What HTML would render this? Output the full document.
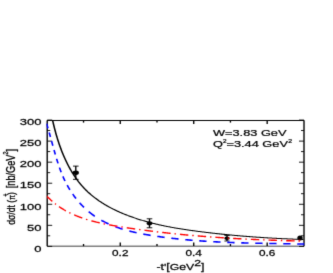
<!DOCTYPE html>
<html><head><meta charset="utf-8"><style>
html,body{margin:0;padding:0;background:#fff;}
svg{display:block;will-change:transform;font-family:"Liberation Sans",sans-serif;}
</style></head><body>
<svg width="333" height="273" viewBox="0 0 333 273">
<rect width="333" height="273" fill="#fff"/>
<filter id="bl" x="0" y="0" width="333" height="273" filterUnits="userSpaceOnUse"><feConvolveMatrix order="3" kernelMatrix="0.0183 0.1353 0.0183 0.1353 1 0.1353 0.0183 0.1353 0.0183" edgeMode="duplicate" preserveAlpha="false"/></filter>
<g filter="url(#bl)">
<g transform="scale(1.5,1)" fill="none" stroke-linecap="butt" stroke-linejoin="round">
<line x1="50.53" y1="166.10" x2="50.53" y2="179.30" stroke="#000" stroke-width="0.9"/>
<line x1="48.67" y1="166.10" x2="52.40" y2="166.10" stroke="#000" stroke-width="0.9"/>
<line x1="48.67" y1="179.30" x2="52.40" y2="179.30" stroke="#000" stroke-width="0.9"/>
<ellipse cx="50.53" cy="172.80" rx="2.07" ry="2.2" fill="#000"/>
<line x1="99.67" y1="218.80" x2="99.67" y2="227.80" stroke="#000" stroke-width="0.9"/>
<line x1="97.80" y1="218.80" x2="101.53" y2="218.80" stroke="#000" stroke-width="0.9"/>
<line x1="97.80" y1="227.80" x2="101.53" y2="227.80" stroke="#000" stroke-width="0.9"/>
<ellipse cx="99.67" cy="223.30" rx="1.87" ry="2.0" fill="#000"/>
<line x1="151.33" y1="235.40" x2="151.33" y2="241.00" stroke="#000" stroke-width="0.9"/>
<line x1="149.60" y1="235.40" x2="153.07" y2="235.40" stroke="#000" stroke-width="0.9"/>
<line x1="149.60" y1="241.00" x2="153.07" y2="241.00" stroke="#000" stroke-width="0.9"/>
<ellipse cx="151.33" cy="238.20" rx="1.87" ry="1.8" fill="#000"/>
<line x1="200.00" y1="236.00" x2="200.00" y2="240.20" stroke="#000" stroke-width="0.9"/>
<ellipse cx="200.00" cy="238.10" rx="1.80" ry="2.5" fill="#000"/>
<clipPath id="c"><rect x="30.93" y="120.50" width="171.73" height="125.60"/></clipPath>
<rect x="31.47" y="120.50" width="171.20" height="125.60" stroke="#000" stroke-width="0.92"/>
<line x1="31.47" y1="246.35" x2="34.80" y2="246.35" stroke="#000" stroke-width="0.9"/>
<line x1="202.67" y1="246.35" x2="199.33" y2="246.35" stroke="#000" stroke-width="0.9"/>
<line x1="31.47" y1="235.82" x2="33.47" y2="235.82" stroke="#000" stroke-width="0.9"/>
<line x1="202.67" y1="235.82" x2="200.67" y2="235.82" stroke="#000" stroke-width="0.9"/>
<line x1="31.47" y1="225.30" x2="34.80" y2="225.30" stroke="#000" stroke-width="0.9"/>
<line x1="202.67" y1="225.30" x2="199.33" y2="225.30" stroke="#000" stroke-width="0.9"/>
<line x1="31.47" y1="214.78" x2="33.47" y2="214.78" stroke="#000" stroke-width="0.9"/>
<line x1="202.67" y1="214.78" x2="200.67" y2="214.78" stroke="#000" stroke-width="0.9"/>
<line x1="31.47" y1="204.25" x2="34.80" y2="204.25" stroke="#000" stroke-width="0.9"/>
<line x1="202.67" y1="204.25" x2="199.33" y2="204.25" stroke="#000" stroke-width="0.9"/>
<line x1="31.47" y1="193.72" x2="33.47" y2="193.72" stroke="#000" stroke-width="0.9"/>
<line x1="202.67" y1="193.72" x2="200.67" y2="193.72" stroke="#000" stroke-width="0.9"/>
<line x1="31.47" y1="183.20" x2="34.80" y2="183.20" stroke="#000" stroke-width="0.9"/>
<line x1="202.67" y1="183.20" x2="199.33" y2="183.20" stroke="#000" stroke-width="0.9"/>
<line x1="31.47" y1="172.68" x2="33.47" y2="172.68" stroke="#000" stroke-width="0.9"/>
<line x1="202.67" y1="172.68" x2="200.67" y2="172.68" stroke="#000" stroke-width="0.9"/>
<line x1="31.47" y1="162.15" x2="34.80" y2="162.15" stroke="#000" stroke-width="0.9"/>
<line x1="202.67" y1="162.15" x2="199.33" y2="162.15" stroke="#000" stroke-width="0.9"/>
<line x1="31.47" y1="151.62" x2="33.47" y2="151.62" stroke="#000" stroke-width="0.9"/>
<line x1="202.67" y1="151.62" x2="200.67" y2="151.62" stroke="#000" stroke-width="0.9"/>
<line x1="31.47" y1="141.10" x2="34.80" y2="141.10" stroke="#000" stroke-width="0.9"/>
<line x1="202.67" y1="141.10" x2="199.33" y2="141.10" stroke="#000" stroke-width="0.9"/>
<line x1="31.47" y1="130.57" x2="33.47" y2="130.57" stroke="#000" stroke-width="0.9"/>
<line x1="202.67" y1="130.57" x2="200.67" y2="130.57" stroke="#000" stroke-width="0.9"/>
<line x1="31.47" y1="120.05" x2="34.80" y2="120.05" stroke="#000" stroke-width="0.9"/>
<line x1="202.67" y1="120.05" x2="199.33" y2="120.05" stroke="#000" stroke-width="0.9"/>
<line x1="55.69" y1="246.10" x2="55.69" y2="244.00" stroke="#000" stroke-width="0.9"/>
<line x1="55.69" y1="120.50" x2="55.69" y2="122.60" stroke="#000" stroke-width="0.9"/>
<line x1="80.17" y1="246.10" x2="80.17" y2="242.50" stroke="#000" stroke-width="0.9"/>
<line x1="80.17" y1="120.50" x2="80.17" y2="124.10" stroke="#000" stroke-width="0.9"/>
<line x1="104.66" y1="246.10" x2="104.66" y2="244.00" stroke="#000" stroke-width="0.9"/>
<line x1="104.66" y1="120.50" x2="104.66" y2="122.60" stroke="#000" stroke-width="0.9"/>
<line x1="129.15" y1="246.10" x2="129.15" y2="242.50" stroke="#000" stroke-width="0.9"/>
<line x1="129.15" y1="120.50" x2="129.15" y2="124.10" stroke="#000" stroke-width="0.9"/>
<line x1="153.63" y1="246.10" x2="153.63" y2="244.00" stroke="#000" stroke-width="0.9"/>
<line x1="153.63" y1="120.50" x2="153.63" y2="122.60" stroke="#000" stroke-width="0.9"/>
<line x1="178.12" y1="246.10" x2="178.12" y2="242.50" stroke="#000" stroke-width="0.9"/>
<line x1="178.12" y1="120.50" x2="178.12" y2="124.10" stroke="#000" stroke-width="0.9"/>
<g clip-path="url(#c)">
<path d="M35.06,120.21 L35.17,120.98 L35.29,121.76 L35.41,122.54 L35.53,123.32 L35.65,124.10 L35.78,124.89 L35.90,125.67 L36.03,126.45 L36.16,127.24 L36.30,128.02 L36.43,128.81 L36.57,129.60 L36.71,130.39 L36.85,131.17 L36.99,131.96 L37.13,132.75 L37.28,133.54 L37.43,134.33 L37.58,135.12 L37.73,135.91 L37.89,136.69 L38.05,137.48 L38.21,138.27 L38.37,139.06 L38.53,139.85 L38.70,140.63 L38.87,141.42 L39.04,142.21 L39.21,142.99 L39.39,143.78 L39.57,144.56 L39.75,145.34 L39.93,146.12 L40.12,146.91 L40.31,147.68 L40.50,148.46 L40.69,149.24 L40.89,150.02 L41.09,150.79 L41.29,151.56 L41.49,152.33 L41.70,153.10 L41.91,153.87 L42.12,154.64 L42.33,155.40 L42.55,156.16 L42.77,156.92 L42.99,157.68 L43.22,158.44 L43.45,159.19 L43.68,159.94 L43.91,160.69 L44.15,161.43 L44.39,162.18 L44.63,162.92 L44.87,163.66 L45.12,164.39 L45.37,165.13 L45.63,165.85 L45.88,166.58 L46.15,167.30 L46.41,168.03 L46.67,168.74 L46.94,169.46 L47.22,170.17 L47.49,170.87 L47.77,171.58 L48.05,172.28 L48.34,172.97 L48.63,173.66 L48.92,174.35 L49.21,175.04 L49.51,175.72 L49.81,176.39 L50.12,177.07 L50.42,177.73 L50.74,178.40 L51.05,179.06 L51.37,179.71 L51.69,180.36 L52.02,181.01 L52.34,181.65 L52.68,182.29 L53.01,182.92 L53.35,183.55 L53.69,184.17 L54.04,184.78 L54.39,185.40 L54.74,186.00 L55.10,186.60 L55.46,187.20 L55.82,187.79 L56.19,188.37 L56.56,188.95 L56.94,189.53 L57.32,190.10 L57.70,190.66 L58.09,191.22 L58.47,191.77 L58.87,192.32 L59.26,192.86 L59.66,193.39 L60.07,193.92 L60.47,194.45 L60.88,194.97 L61.29,195.48 L61.71,195.99 L62.13,196.50 L62.55,197.00 L62.98,197.49 L63.40,197.98 L63.83,198.47 L64.27,198.95 L64.70,199.42 L65.14,199.89 L65.59,200.36 L66.03,200.82 L66.48,201.27 L66.93,201.72 L67.38,202.17 L67.83,202.61 L68.29,203.05 L68.75,203.48 L69.21,203.91 L69.68,204.33 L70.14,204.75 L70.61,205.16 L71.08,205.57 L71.56,205.98 L72.03,206.38 L72.51,206.78 L72.99,207.17 L73.47,207.55 L73.95,207.94 L74.44,208.32 L74.92,208.69 L75.41,209.06 L75.90,209.43 L76.39,209.79 L76.89,210.15 L77.38,210.50 L77.88,210.85 L78.38,211.20 L78.88,211.54 L79.38,211.88 L79.88,212.22 L80.39,212.55 L80.89,212.87 L81.40,213.20 L81.90,213.52 L82.41,213.83 L82.92,214.14 L83.43,214.45 L83.95,214.76 L84.46,215.06 L84.97,215.36 L85.49,215.65 L86.00,215.94 L86.52,216.23 L87.04,216.51 L87.55,216.79 L88.07,217.07 L88.59,217.34 L89.11,217.61 L89.63,217.88 L90.15,218.14 L90.67,218.40 L91.19,218.66 L91.71,218.92 L92.24,219.17 L92.76,219.41 L93.28,219.66 L93.80,219.90 L94.33,220.14 L94.85,220.38 L95.38,220.61 L95.90,220.84 L96.43,221.07 L96.95,221.29 L97.48,221.51 L98.00,221.73 L98.53,221.95 L99.06,222.16 L99.58,222.37 L100.11,222.58 L100.64,222.79 L101.17,222.99 L101.69,223.19 L102.22,223.39 L102.75,223.58 L103.28,223.78 L103.81,223.97 L104.34,224.16 L104.87,224.34 L105.40,224.53 L105.93,224.71 L106.46,224.89 L106.99,225.06 L107.52,225.24 L108.05,225.41 L108.59,225.58 L109.12,225.75 L109.65,225.91 L110.18,226.08 L110.72,226.24 L111.25,226.40 L111.78,226.56 L112.32,226.71 L112.85,226.87 L113.38,227.02 L113.92,227.17 L114.45,227.32 L114.99,227.46 L115.52,227.61 L116.06,227.75 L116.59,227.89 L117.13,228.03 L117.67,228.17 L118.20,228.31 L118.74,228.44 L119.27,228.57 L119.81,228.71 L120.35,228.84 L120.88,228.96 L121.42,229.09 L121.96,229.22 L122.50,229.34 L123.03,229.47 L123.57,229.59 L124.11,229.71 L124.65,229.83 L125.19,229.95 L125.72,230.06 L126.26,230.18 L126.80,230.29 L127.34,230.41 L127.88,230.52 L128.42,230.63 L128.96,230.74 L129.50,230.85 L130.03,230.96 L130.57,231.07 L131.11,231.18 L131.65,231.28 L132.19,231.39 L132.73,231.49 L133.27,231.60 L133.81,231.70 L134.35,231.80 L134.89,231.90 L135.43,232.00 L135.97,232.10 L136.51,232.20 L137.06,232.30 L137.60,232.40 L138.14,232.50 L138.68,232.59 L139.22,232.69 L139.76,232.79 L140.30,232.88 L140.84,232.97 L141.38,233.07 L141.92,233.16 L142.46,233.25 L143.01,233.34 L143.55,233.43 L144.09,233.52 L144.63,233.61 L145.17,233.70 L145.71,233.79 L146.26,233.87 L146.80,233.96 L147.34,234.05 L147.88,234.13 L148.42,234.22 L148.97,234.30 L149.51,234.38 L150.05,234.46 L150.59,234.55 L151.14,234.63 L151.68,234.71 L152.22,234.79 L152.76,234.87 L153.31,234.94 L153.85,235.02 L154.39,235.10 L154.93,235.18 L155.48,235.25 L156.02,235.33 L156.56,235.40 L157.10,235.47 L157.65,235.55 L158.19,235.62 L158.73,235.69 L159.28,235.76 L159.82,235.83 L160.36,235.90 L160.91,235.97 L161.45,236.04 L161.99,236.11 L162.54,236.18 L163.08,236.24 L163.62,236.31 L164.17,236.37 L164.71,236.44 L165.25,236.50 L165.80,236.57 L166.34,236.63 L166.89,236.69 L167.43,236.75 L167.97,236.81 L168.52,236.88 L169.06,236.93 L169.60,236.99 L170.15,237.05 L170.69,237.11 L171.24,237.17 L171.78,237.23 L172.32,237.28 L172.87,237.34 L173.41,237.39 L173.96,237.45 L174.50,237.50 L175.04,237.55 L175.59,237.61 L176.13,237.66 L176.68,237.71 L177.22,237.76 L177.77,237.81 L178.31,237.86 L178.85,237.91 L179.40,237.96 L179.94,238.01 L180.49,238.05 L181.03,238.10 L181.57,238.15 L182.12,238.19 L182.66,238.24 L183.21,238.28 L183.75,238.33 L184.30,238.37 L184.84,238.41 L185.38,238.45 L185.93,238.50 L186.47,238.54 L187.02,238.58 L187.56,238.62 L188.11,238.66 L188.65,238.70 L189.19,238.73 L189.74,238.77 L190.28,238.81 L190.83,238.85 L191.37,238.88 L191.92,238.92 L192.46,238.95 L193.00,238.99 L193.55,239.02 L194.09,239.05 L194.64,239.09 L195.18,239.12 L195.73,239.15 L196.27,239.18 L196.81,239.21 L197.36,239.24 L197.90,239.27 L198.45,239.30 L198.99,239.33 L199.53,239.36 L200.08,239.39 L200.62,239.41 L201.17,239.44 L201.71,239.47 L202.25,239.49" stroke="#000" stroke-width="1.05"/>
</g>
</g>
<clipPath id="c2"><rect x="46.40" y="120.50" width="257.60" height="125.60"/></clipPath>
<g clip-path="url(#c2)" fill="none" stroke-linecap="butt" stroke-linejoin="round">
<path d="M46.61,123.62 L46.62,123.66 L46.80,124.27 L46.98,124.88 L47.17,125.48 L47.35,126.09 L47.52,126.70 L47.70,127.31 L47.88,127.92 L47.96,128.20 M49.17,132.42 L49.22,132.60 L49.39,133.22 L49.56,133.83 L49.73,134.45 L49.90,135.06 L50.07,135.68 L50.25,136.29 L50.42,136.91 L50.44,137.00 M51.60,141.22 L51.60,141.23 L51.77,141.85 L51.94,142.46 L52.11,143.08 L52.28,143.70 L52.45,144.32 L52.62,144.94 L52.79,145.56 L52.86,145.80 M54.04,150.02 L54.06,150.10 L54.23,150.72 L54.41,151.33 L54.59,151.95 L54.76,152.57 L54.94,153.19 L55.12,153.81 L55.30,154.43 L55.35,154.60 M56.61,158.82 L56.65,158.96 L56.84,159.57 L57.03,160.19 L57.22,160.81 L57.42,161.42 L57.61,162.04 L57.81,162.65 L58.01,163.26 L58.05,163.40 M59.48,167.62 L59.52,167.74 L59.74,168.35 L59.96,168.96 L60.18,169.56 L60.40,170.17 L60.62,170.77 L60.85,171.37 L61.08,171.97 L61.17,172.20 M62.90,176.42 L62.95,176.54 L63.21,177.13 L63.47,177.72 L63.73,178.30 L64.00,178.89 L64.27,179.47 L64.55,180.05 L64.83,180.63 L65.01,181.00 M67.21,185.22 L67.30,185.39 L67.61,185.95 L67.93,186.51 L68.25,187.07 L68.57,187.63 L68.90,188.18 L69.23,188.73 L69.57,189.28 L69.89,189.80 M72.68,194.02 L72.74,194.11 L73.11,194.64 L73.48,195.16 L73.86,195.68 L74.24,196.20 L74.62,196.71 L75.01,197.22 L75.40,197.73 L75.79,198.23 L76.08,198.60 M79.63,202.82 L79.76,202.96 L80.18,203.44 L80.61,203.91 L81.05,204.37 L81.48,204.84 L81.92,205.29 L82.37,205.75 L82.81,206.20 L83.26,206.65 L83.71,207.10 L84.02,207.40 M88.71,211.62 L88.72,211.63 L89.21,212.03 L89.70,212.43 L90.19,212.83 L90.68,213.22 L91.18,213.60 L91.68,213.99 L92.18,214.36 L92.69,214.74 L93.20,215.11 L93.71,215.48 L94.23,215.84 L94.74,216.20 L94.75,216.20 M101.35,220.28 L101.52,220.37 L102.07,220.68 L102.62,220.97 L103.18,221.27 L103.73,221.56 L104.30,221.85 L104.86,222.13 L105.42,222.41 L105.99,222.69 L106.56,222.97 L107.13,223.24 L107.70,223.50 L108.28,223.76 L108.62,223.92 M115.34,226.67 L115.53,226.74 L116.13,226.96 L116.73,227.18 L117.33,227.39 L117.93,227.60 L118.54,227.81 L119.15,228.02 L119.76,228.22 L120.37,228.42 L120.98,228.62 L121.59,228.81 L122.20,229.00 L122.62,229.13 M129.33,231.02 L129.46,231.05 L130.09,231.21 L130.72,231.37 L131.35,231.53 L131.98,231.68 L132.62,231.83 L133.25,231.98 L133.88,232.13 L134.52,232.28 L135.16,232.42 L135.79,232.56 L136.43,232.70 L136.61,232.74 M143.32,234.09 L143.48,234.12 L144.13,234.23 L144.77,234.35 L145.42,234.47 L146.06,234.58 L146.71,234.69 L147.35,234.80 L148.00,234.91 L148.64,235.02 L149.29,235.13 L149.94,235.24 L150.58,235.34 L150.60,235.34 M157.32,236.36 L157.48,236.39 L158.12,236.48 L158.77,236.57 L159.41,236.66 L160.06,236.75 L160.70,236.84 L161.35,236.93 L161.99,237.02 L162.64,237.10 L163.28,237.19 L163.92,237.27 L164.57,237.36 L164.59,237.36 M171.31,238.19 L171.42,238.21 L172.06,238.28 L172.70,238.35 L173.34,238.43 L173.98,238.50 L174.62,238.57 L175.26,238.64 L175.90,238.71 L176.54,238.78 L177.18,238.85 L177.82,238.92 L178.46,238.99 L178.58,239.00 M185.30,239.66 L185.49,239.68 L186.13,239.74 L186.77,239.80 L187.41,239.86 L188.04,239.91 L188.68,239.97 L189.32,240.03 L189.96,240.08 L190.59,240.14 L191.23,240.19 L191.87,240.24 L192.51,240.30 L192.58,240.30 M199.29,240.82 L199.30,240.82 L199.93,240.87 L200.57,240.91 L201.21,240.96 L201.84,241.00 L202.48,241.04 L203.11,241.09 L203.75,241.13 L204.38,241.17 L205.02,241.21 L205.66,241.25 L206.29,241.29 L206.57,241.31 M213.28,241.70 L213.50,241.71 L214.13,241.75 L214.77,241.78 L215.40,241.82 L216.04,241.85 L216.67,241.88 L217.31,241.91 L217.94,241.94 L218.58,241.98 L219.21,242.01 L219.85,242.04 L220.49,242.07 L220.56,242.07 M227.28,242.36 L227.48,242.37 L228.11,242.39 L228.75,242.42 L229.39,242.44 L230.02,242.47 L230.66,242.49 L231.29,242.51 L231.93,242.54 L232.57,242.56 L233.20,242.58 L233.84,242.60 L234.48,242.63 L234.55,242.63 M241.27,242.84 L241.27,242.84 L241.91,242.86 L242.54,242.87 L243.18,242.89 L243.82,242.91 L244.46,242.93 L245.10,242.94 L245.73,242.96 L246.37,242.98 L247.01,242.99 L247.65,243.01 L248.29,243.03 L248.54,243.03 M255.26,243.19 L255.32,243.19 L255.96,243.20 L256.60,243.22 L257.24,243.23 L257.88,243.24 L258.52,243.26 L259.16,243.27 L259.80,243.28 L260.44,243.29 L261.09,243.31 L261.73,243.32 L262.37,243.33 L262.54,243.33 M269.25,243.46 L269.44,243.46 L270.09,243.47 L270.73,243.48 L271.37,243.49 L272.02,243.50 L272.66,243.52 L273.31,243.53 L273.95,243.54 L274.60,243.55 L275.25,243.56 L275.89,243.57 L276.53,243.58 M283.24,243.69 L283.45,243.70 L284.09,243.71 L284.74,243.72 L285.39,243.73 L286.04,243.74 L286.69,243.75 L287.34,243.76 L287.99,243.77 L288.64,243.79 L289.30,243.80 L289.95,243.81 L290.52,243.82 M297.24,243.94 L297.35,243.95 L298.01,243.96 L298.66,243.97 L299.32,243.99 L299.97,244.00 L300.63,244.01 L301.29,244.03 L301.94,244.04 L302.60,244.05 L303.26,244.07 L303.92,244.08 L304.14,244.09" stroke="#0000ff" stroke-width="1.6"/>
<path d="M47.18,196.40 L47.26,196.48 L47.64,196.89 L48.02,197.28 L48.41,197.68 L48.79,198.07 L49.18,198.46 L49.57,198.84 L49.96,199.22 L50.35,199.59 L50.75,199.97 L51.15,200.33 L51.55,200.70 L51.95,201.06 L52.31,201.38 M54.98,203.61 L55.09,203.70 L55.51,204.03 L55.93,204.35 L55.98,204.39 M58.99,206.58 L59.07,206.64 L59.51,206.93 L59.95,207.23 L60.38,207.52 L60.83,207.81 L61.27,208.09 L61.71,208.37 L62.16,208.65 L62.60,208.93 L63.05,209.20 L63.50,209.47 L63.95,209.74 L64.41,210.00 L64.86,210.26 L65.32,210.52 L65.78,210.78 L65.87,210.83 M69.29,212.62 L69.33,212.64 L69.80,212.87 L70.27,213.10 L70.56,213.23 M74.24,214.91 L74.25,214.91 L74.73,215.11 L75.21,215.32 L75.70,215.52 L76.18,215.72 L76.67,215.91 L77.16,216.11 L77.65,216.30 L78.14,216.49 L78.63,216.68 L79.12,216.87 L79.61,217.05 L80.11,217.23 L80.60,217.41 L81.10,217.59 L81.59,217.76 L82.09,217.94 L82.25,217.99 M86.05,219.24 L86.10,219.26 L86.60,219.42 L87.11,219.57 L87.42,219.67 M91.38,220.81 L91.52,220.85 L92.03,220.99 L92.55,221.13 L93.06,221.27 L93.57,221.40 L94.09,221.53 L94.60,221.67 L95.12,221.80 L95.64,221.93 L96.15,222.06 L96.67,222.18 L97.19,222.31 L97.71,222.43 L98.23,222.55 L98.75,222.67 L99.27,222.79 L99.73,222.90 M103.62,223.75 L103.80,223.78 L104.32,223.89 L104.85,224.00 L105.02,224.04 M109.03,224.82 L109.06,224.82 L109.59,224.92 L110.11,225.02 L110.64,225.12 L111.17,225.21 L111.70,225.31 L112.23,225.40 L112.76,225.50 L113.29,225.59 L113.82,225.68 L114.35,225.78 L114.88,225.87 L115.41,225.96 L115.94,226.05 L116.47,226.13 L117.00,226.22 L117.44,226.30 M121.35,226.92 L121.43,226.94 L121.97,227.02 L122.50,227.10 L122.75,227.14 M126.77,227.76 L126.93,227.78 L127.46,227.86 L128.00,227.94 L128.53,228.02 L129.06,228.10 L129.59,228.18 L130.12,228.25 L130.66,228.33 L131.19,228.41 L131.72,228.49 L132.25,228.56 L132.78,228.64 L133.31,228.72 L133.85,228.79 L134.38,228.87 L134.91,228.94 L135.18,228.98 M139.09,229.53 L139.16,229.54 L139.69,229.61 L140.23,229.68 L140.49,229.72 M144.51,230.26 L144.65,230.27 L145.19,230.34 L145.72,230.41 L146.25,230.48 L146.78,230.55 L147.31,230.62 L147.84,230.69 L148.37,230.76 L148.91,230.82 L149.44,230.89 L149.97,230.96 L150.50,231.03 L151.03,231.09 L151.56,231.16 L152.09,231.23 L152.62,231.29 L152.92,231.33 M156.83,231.80 L156.87,231.81 L157.41,231.87 L157.94,231.93 L158.23,231.97 M162.24,232.43 L162.36,232.45 L162.89,232.51 L163.42,232.57 L163.96,232.63 L164.49,232.69 L165.02,232.75 L165.55,232.81 L166.08,232.86 L166.61,232.92 L167.14,232.98 L167.67,233.04 L168.20,233.10 L168.74,233.16 L169.27,233.21 L169.80,233.27 L170.33,233.33 L170.66,233.36 M174.56,233.77 L174.58,233.77 L175.11,233.83 L175.64,233.88 L175.96,233.91 M179.97,234.31 L180.06,234.32 L180.60,234.37 L181.13,234.43 L181.66,234.48 L182.19,234.53 L182.72,234.58 L183.25,234.63 L183.78,234.68 L184.31,234.73 L184.84,234.78 L185.38,234.83 L185.91,234.88 L186.44,234.93 L186.97,234.98 L187.50,235.03 L188.03,235.08 L188.38,235.11 M192.29,235.46 L192.46,235.47 L192.99,235.52 L193.52,235.56 L193.69,235.58 M197.70,235.92 L197.77,235.92 L198.30,235.97 L198.83,236.01 L199.36,236.06 L199.90,236.10 L200.43,236.14 L200.96,236.19 L201.49,236.23 L202.02,236.27 L202.55,236.31 L203.08,236.35 L203.62,236.40 L204.15,236.44 L204.68,236.48 L205.21,236.52 L205.74,236.56 L206.11,236.59 M210.01,236.88 L210.17,236.90 L210.70,236.93 L211.24,236.97 L211.41,236.99 M215.42,237.27 L215.49,237.28 L216.02,237.31 L216.55,237.35 L217.08,237.39 L217.62,237.42 L218.15,237.46 L218.68,237.50 L219.21,237.53 L219.74,237.57 L220.28,237.60 L220.81,237.64 L221.34,237.67 L221.87,237.71 L222.40,237.74 L222.94,237.78 L223.47,237.81 L223.82,237.83 M227.72,238.08 L227.73,238.08 L228.26,238.11 L228.79,238.14 L229.12,238.16 M233.13,238.40 L233.23,238.41 L233.76,238.44 L234.29,238.47 L234.83,238.50 L235.36,238.53 L235.89,238.56 L236.43,238.59 L236.96,238.62 L237.49,238.65 L238.02,238.68 L238.56,238.70 L239.09,238.73 L239.62,238.76 L240.16,238.79 L240.69,238.82 L241.22,238.85 L241.53,238.86 M245.43,239.06 L245.49,239.07 L246.02,239.09 L246.55,239.12 L246.83,239.13 M250.84,239.33 L251.00,239.34 L251.53,239.36 L252.07,239.39 L252.60,239.41 L253.14,239.44 L253.67,239.46 L254.20,239.48 L254.74,239.51 L255.27,239.53 L255.81,239.56 L256.34,239.58 L256.87,239.60 L257.41,239.63 L257.94,239.65 L258.48,239.67 L259.01,239.70 L259.24,239.71 M263.14,239.87 L263.29,239.87 L263.82,239.90 L264.35,239.92 L264.54,239.92 M268.54,240.08 L268.63,240.08 L269.17,240.10 L269.70,240.12 L270.24,240.14 L270.77,240.16 L271.31,240.18 L271.84,240.20 L272.38,240.22 L272.91,240.24 L273.45,240.26 L273.99,240.28 L274.52,240.30 L275.06,240.32 L275.59,240.34 L276.13,240.35 L276.66,240.37 L276.94,240.38 M280.84,240.51 L280.95,240.52 L281.49,240.53 L282.02,240.55 L282.24,240.56 M286.25,240.68 L286.31,240.68 L286.85,240.70 L287.39,240.72 L287.92,240.73 L288.46,240.75 L289.00,240.76 L289.53,240.78 L290.07,240.79 L290.61,240.81 L291.14,240.82 L291.68,240.84 L292.22,240.85 L292.76,240.87 L293.29,240.88 L293.83,240.90 L294.37,240.91 L294.64,240.92 M298.54,241.02 L298.67,241.03 L299.21,241.04 L299.74,241.05 L299.94,241.06 M303.95,241.16 L304.05,241.16" stroke="#ff0000" stroke-width="1.4"/>
</g>
<g fill="#000" stroke="#000" stroke-width="0.25">
<text transform="scale(1.37,1)" x="30.22" y="251.65" font-size="9.5" text-anchor="end" >0</text>
<text transform="scale(1.37,1)" x="30.22" y="230.60" font-size="9.5" text-anchor="end" >50</text>
<text transform="scale(1.37,1)" x="30.22" y="209.55" font-size="9.5" text-anchor="end" >100</text>
<text transform="scale(1.37,1)" x="30.22" y="188.50" font-size="9.5" text-anchor="end" >150</text>
<text transform="scale(1.37,1)" x="30.22" y="167.45" font-size="9.5" text-anchor="end" >200</text>
<text transform="scale(1.37,1)" x="30.22" y="146.40" font-size="9.5" text-anchor="end" >250</text>
<text transform="scale(1.37,1)" x="30.22" y="125.35" font-size="9.5" text-anchor="end" >300</text>
<text transform="scale(1.37,1)" x="87.78" y="256.00" font-size="8.6" text-anchor="middle" >0.2</text>
<text transform="scale(1.37,1)" x="141.40" y="256.00" font-size="8.6" text-anchor="middle" >0.4</text>
<text transform="scale(1.37,1)" x="195.02" y="256.00" font-size="8.6" text-anchor="middle" >0.6</text>
<text transform="scale(1.345,1)" x="158.36" y="136.10" font-size="9.5" text-anchor="start" >W=3.83 GeV</text>
<text transform="scale(1.345,1)" x="158.36" y="147.10" font-size="9.5" text-anchor="start" >Q<tspan font-size="4.8" dy="-3.8">2</tspan><tspan dy="3.8">=3.44 GeV</tspan><tspan font-size="5.2" dy="-3.8" dx="0.3">2</tspan></text>
<text transform="scale(1.37,1)" x="114.23" y="270.30" font-size="8.95" text-anchor="start" >-t'[GeV<tspan dy="-4">2</tspan><tspan dy="4">]</tspan></text>
<text transform="scale(1.37,1) translate(10.95,224.7) rotate(-90)" font-size="8.6">d&#963;/dt (<tspan font-size="6.8">&#960;</tspan><tspan font-size="5" dy="-4.8" dx="-1.3">+</tspan><tspan dy="4.8" dx="-1.4">)</tspan></text>
<text transform="scale(1.37,1) translate(10.95,188.2) rotate(-90)" font-size="9.2">[nb/GeV<tspan font-size="5.4" dy="-4.8">2</tspan><tspan dy="4.8">]</tspan></text>
</g></g></svg></body></html>
